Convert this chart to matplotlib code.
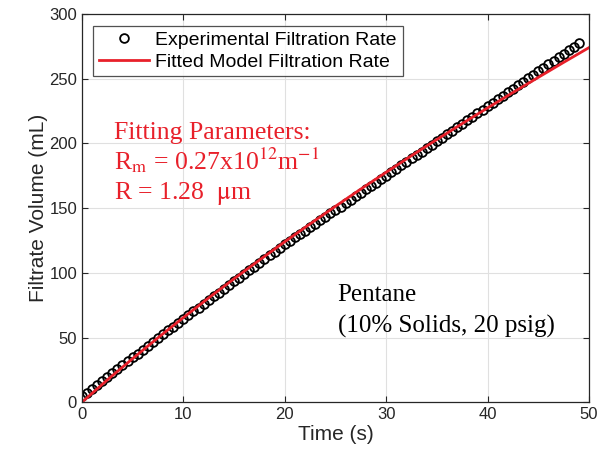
import numpy as np
import matplotlib
matplotlib.use("Agg")
import matplotlib.pyplot as plt

# --- data ---
t_exp = np.arange(0, 49.01, 0.5)
v_exp = [
    4.5, 7.5, 10.5, 13.5, 16.6, 19.6, 22.6, 25.6, 28.6, 31.6, 34.6,
    37.6, 40.6, 43.5, 46.5, 49.5, 52.5, 55.5, 58.5, 61.5, 64.5,
    67.4, 70.3, 73.1, 76.0, 78.9, 81.8, 84.6, 87.5, 90.4, 93.3,
    96.1, 99.0, 101.9, 104.8, 107.6, 110.5, 113.4, 116.3, 119.1, 122.0,
    124.7, 127.3, 130.0, 132.6, 135.3, 137.9, 140.6, 143.2, 145.9, 148.5,
    151.2, 153.8, 156.5, 159.1, 161.8, 164.4, 167.1, 169.7, 172.4, 175.0,
    177.7, 180.4, 183.0, 185.7, 188.4, 191.1, 193.7, 196.4, 199.1, 201.8,
    204.4, 207.1, 209.8, 212.5, 215.1, 217.8, 220.5, 223.2, 225.8, 228.5,
    231.2, 234.0, 236.7, 239.4, 242.1, 244.8, 247.6, 250.3, 253.0,
    255.7, 258.4, 261.2, 263.9, 266.6, 269.3, 272.1, 274.8, 277.5,
]
t_fit = [0, 2.5, 5, 7.5, 10, 12.5, 15, 17.5, 20, 22.5, 25, 27.5, 30,
         32.5, 35, 37.5, 40, 42.5, 45, 47.5, 50]
v_fit = [0, 17.2, 33.7, 49.8, 65.4, 80.6, 95.4, 109.8, 124.0, 137.8, 151.4,
         164.7, 177.7, 190.5, 203.0, 215.3, 227.4, 239.3, 251.0, 262.6, 274.0]

x_ticks = [0, 10, 20, 30, 40, 50]
y_ticks = [0, 50, 100, 150, 200, 250, 300]

plt.rcParams['font.family'] = ['Liberation Sans', 'DejaVu Sans']
plt.rcParams['mathtext.fontset'] = 'stix'

fig = plt.figure(figsize=(5.98, 4.65), dpi=100)
ax = fig.add_axes([0.137, 0.135, 0.848, 0.835])

ax.plot(t_exp, v_exp, 'o', mfc='none', mec='black', mew=1.3, ms=6.3,
        label='Experimental Filtration Rate')
ax.plot(t_fit, v_fit, '-', color='#e8202a', lw=2,
        label='Fitted Model Filtration Rate')

ax.set_xlim(0, 50)
ax.set_ylim(0, 300)
ax.set_xticks(x_ticks)
ax.set_yticks(y_ticks)
ax.grid(True, color='#e0e0e0', lw=0.8)
ax.set_axisbelow(True)
ax.tick_params(direction='in', labelsize=12, colors='#262626', length=4,
               top=True, right=True, labeltop=False, labelright=False)
for s in ax.spines.values():
    s.set_color('#262626')
    s.set_linewidth(0.9)

ax.set_xlabel('Time (s)', fontsize=15, color='#262626', labelpad=2)
ax.set_ylabel('Filtrate Volume (mL)', fontsize=15, color='#262626', labelpad=1)

leg = ax.legend(loc='upper left', fontsize=14, frameon=True, fancybox=False,
                edgecolor='#262626', borderpad=0.3, handlelength=2.6,
                handletextpad=0.3, labelspacing=0.2, borderaxespad=0,
                bbox_to_anchor=(0.022, 0.97))
leg.get_frame().set_linewidth(0.9)

serif = ['Liberation Serif', 'DejaVu Serif']
red = '#e8202a'
ax.text(3.2, 203, 'Fitting Parameters:', color=red, fontsize=18.5, family=serif)
ax.text(3.2, 180, r'R$_\mathrm{m}$ = 0.27x10$^{12}$m$^{-1}$', color=red,
        fontsize=18.5, family=serif)
ax.text(3.2, 157, r'R = 1.28  $\mathrm{\mu}$m', color=red, fontsize=18.5,
        family=serif)

ax.text(25.2, 78, 'Pentane', color='black', fontsize=18, family=serif)
ax.text(25.2, 54, '(10% Solids, 20 psig)', color='black', fontsize=18,
        family=serif)

fig.savefig('out.png', dpi=100)
